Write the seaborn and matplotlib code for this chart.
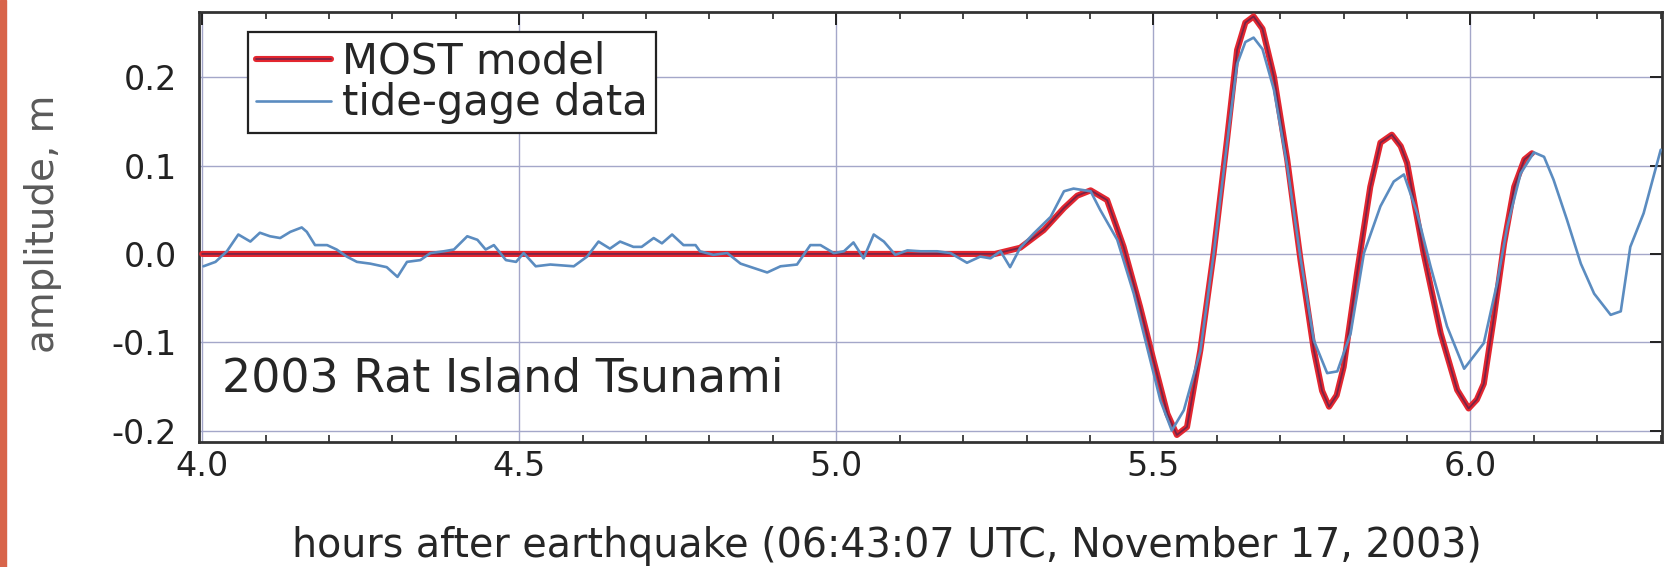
import numpy as np
import pandas as pd
import matplotlib
matplotlib.use("Agg")
import matplotlib.pyplot as plt
import matplotlib.patheffects as pe
from matplotlib.ticker import MultipleLocator
import seaborn as sns

# ---- data ----
model_t = [4.0, 5.25, 5.29, 5.327, 5.359, 5.38, 5.401, 5.427, 5.453, 5.479, 5.500,
           5.522, 5.537, 5.553, 5.574, 5.595, 5.616, 5.632, 5.645, 5.658, 5.672,
           5.690, 5.711, 5.732, 5.753, 5.766, 5.777, 5.789, 5.800, 5.821, 5.842,
           5.858, 5.876, 5.890, 5.900, 5.926, 5.953, 5.979, 5.997, 6.010, 6.021,
           6.037, 6.053, 6.069, 6.085, 6.097]
model_y = [0.0, 0.0, 0.007, 0.027, 0.052, 0.066, 0.072, 0.061, 0.008, -0.060, -0.120,
           -0.181, -0.205, -0.196, -0.109, 0.001, 0.129, 0.231, 0.262, 0.269, 0.255,
           0.201, 0.107, -0.007, -0.109, -0.155, -0.173, -0.160, -0.128, -0.022, 0.076,
           0.126, 0.135, 0.122, 0.103, 0.001, -0.090, -0.154, -0.175, -0.165, -0.147,
           -0.071, 0.012, 0.076, 0.107, 0.114]

gage_t = [4.002, 4.021, 4.039, 4.057, 4.076, 4.091, 4.107, 4.123, 4.139, 4.157,
          4.165, 4.178, 4.197, 4.212, 4.228, 4.244, 4.265, 4.291, 4.308, 4.323,
          4.344, 4.360, 4.381, 4.397, 4.418, 4.434, 4.447, 4.460, 4.479, 4.495,
          4.507, 4.526, 4.549, 4.586, 4.607, 4.625, 4.643, 4.659, 4.680, 4.693,
          4.712, 4.725, 4.741, 4.759, 4.778, 4.785, 4.806, 4.828, 4.849, 4.870,
          4.891, 4.912, 4.938, 4.959, 4.975, 4.996, 5.012, 5.027, 5.043, 5.059,
          5.075, 5.093, 5.112, 5.133, 5.159, 5.180, 5.206, 5.227, 5.243, 5.259,
          5.274, 5.290, 5.311, 5.338, 5.359, 5.374, 5.401, 5.416, 5.443, 5.469,
          5.495, 5.511, 5.529, 5.548, 5.574, 5.595, 5.616, 5.632, 5.645, 5.658,
          5.672, 5.690, 5.711, 5.732, 5.753, 5.774, 5.790, 5.811, 5.832, 5.858,
          5.879, 5.895, 5.916, 5.937, 5.963, 5.990, 6.021, 6.042, 6.058, 6.079,
          6.100, 6.116, 6.131, 6.152, 6.174, 6.195, 6.221, 6.237, 6.252, 6.273,
          6.300]
gage_y = [-0.014, -0.009, 0.003, 0.022, 0.014, 0.024, 0.020, 0.018, 0.025, 0.030,
          0.025, 0.010, 0.010, 0.005, -0.003, -0.009, -0.011, -0.015, -0.026, -0.009,
          -0.007, 0.001, 0.003, 0.005, 0.020, 0.016, 0.005, 0.010, -0.007, -0.009,
          0.001, -0.014, -0.012, -0.014, -0.003, 0.014, 0.006, 0.014, 0.008, 0.008,
          0.018, 0.012, 0.022, 0.010, 0.010, 0.003, -0.001, 0.001, -0.011, -0.016,
          -0.021, -0.014, -0.012, 0.010, 0.010, 0.001, 0.003, 0.013, -0.005, 0.022,
          0.014, -0.001, 0.004, 0.003, 0.003, 0.001, -0.010, -0.003, -0.005, 0.003,
          -0.015, 0.007, 0.023, 0.042, 0.071, 0.074, 0.071, 0.050, 0.016, -0.045,
          -0.120, -0.166, -0.200, -0.177, -0.110, 0.000, 0.125, 0.215, 0.240, 0.245,
          0.232, 0.186, 0.100, -0.005, -0.098, -0.135, -0.133, -0.090, 0.001, 0.054,
          0.082, 0.090, 0.046, -0.014, -0.082, -0.130, -0.101, -0.033, 0.031, 0.091,
          0.115, 0.110, 0.084, 0.039, -0.011, -0.045, -0.069, -0.065, 0.008, 0.046,
          0.118]

x_ticks = [4.0, 4.5, 5.0, 5.5, 6.0]
y_ticks = [-0.2, -0.1, 0.0, 0.1, 0.2]
x_ticklabels = ["4.0", "4.5", "5.0", "5.5", "6.0"]
y_ticklabels = ["-0.2", "-0.1", "0.0", "0.1", "0.2"]
series_names = ["MOST model", "tide-gage data"]
title_text = "2003 Rat Island Tsunami"
x_label = "hours after earthquake (06:43:07 UTC, November 17, 2003)"
y_label = "amplitude, m"

model_df = pd.DataFrame({"t": model_t, "amp": model_y})
gage_df = pd.DataFrame({"t": gage_t, "amp": gage_y})

sns.set_style("white")
plt.rcParams["font.family"] = ["DejaVu Sans"]
text_col = "#262626"

fig = plt.figure(figsize=(16.72, 5.67), dpi=100)
ax = fig.add_axes([199/1672, 1-442/567, (1662-199)/1672, (442-12)/567])

sns.lineplot(data=model_df, x="t", y="amp", ax=ax, color="#e3262f", lw=4.4,
             estimator=None, sort=False, label=series_names[0],
             path_effects=[pe.Normal(), pe.Stroke(linewidth=1.3, foreground="#7a2346")],
             zorder=3)
sns.lineplot(data=gage_df, x="t", y="amp", ax=ax, color="#5b8cc0", lw=1.9,
             estimator=None, sort=False, label=series_names[1], zorder=4)

ax.set_xlim(3.995, 6.302)
ax.set_ylim(-0.213, 0.274)
ax.set_xticks(x_ticks)
ax.set_xticklabels(x_ticklabels)
ax.set_yticks(y_ticks)
ax.set_yticklabels(y_ticklabels)
ax.xaxis.set_minor_locator(MultipleLocator(0.1))

ax.grid(True, which="major", color="#a4a7c9", lw=1.0)
ax.tick_params(axis="both", which="major", direction="in", length=9, width=1.4,
               top=True, right=True, labelsize=24, colors="#222222")
ax.tick_params(axis="x", which="major", pad=6)
ax.tick_params(axis="y", which="major", pad=16)
ax.tick_params(axis="x", which="minor", direction="in", length=5, width=1.2,
               top=True, bottom=True)
for sp in ax.spines.values():
    sp.set_visible(True)
    sp.set_color("#333333")
    sp.set_linewidth(2.0)

ax.set_xlabel("")
ax.set_ylabel("")
fig.text(887/1672, 1-546/567, x_label, ha="center", va="center", fontsize=28.5,
         color=text_col)
fig.text(43/1672, 1-224/567, y_label, ha="center", va="center", rotation=90,
         fontsize=28, color="#5a5a5a")

fig.text(222/1672, 1-392/567, title_text, ha="left", va="baseline", fontsize=33,
         color=text_col)

leg = ax.legend(loc="upper left", bbox_to_anchor=((248-199)/1463, 1-(32-12)/430),
                fontsize=30, frameon=True, fancybox=False, framealpha=1,
                edgecolor="#222222", handlelength=1.8, handletextpad=0.25,
                borderpad=0.2, labelspacing=0.0, borderaxespad=0)
leg.get_frame().set_linewidth(1.6)

# left decorative stripe
fig.patches.append(plt.Rectangle((0, 0), 6/1672, 1, transform=fig.transFigure,
                                 color="#d8644a", zorder=10))

fig.savefig("out.png", dpi=100)
